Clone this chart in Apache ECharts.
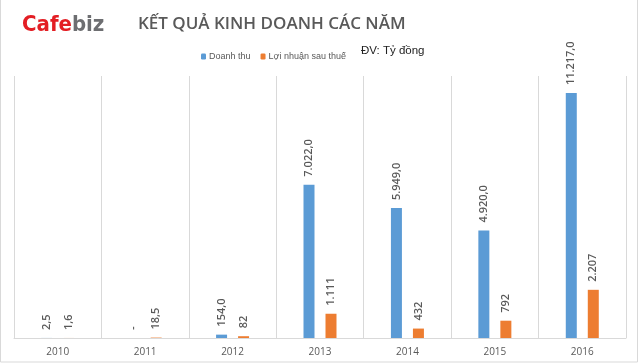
<!DOCTYPE html>
<html><head><meta charset="utf-8">
<script src="https://cdn.jsdelivr.net/npm/echarts@6/dist/echarts.min.js"></script>
<style>html,body{margin:0;padding:0;background:#fff}#c{width:640px;height:364px}</style>
</head><body><div id="c"></div>
<script>
const years = ['2010','2011','2012','2013','2014','2015','2016'];
const revenue = [2.5, 0, 154.0, 7022.0, 5949.0, 4920.0, 11217.0];
const profit = [1.6, 18.5, 82, 1111, 432, 792, 2207];
const seriesNames = ['Doanh thu', 'Lợi nhuận sau thuế'];

function fmt(v, dec) {
  const parts = v.toFixed(dec).split('.');
  parts[0] = parts[0].replace(/\B(?=(\d{3})+(?!\d))/g, '.');
  return parts.join(',');
}
const fmtRev = p => p.value === 0 ? '-' : fmt(p.value, 1);
const fmtProfit = p => Number.isInteger(p.value) ? fmt(p.value, 0) : fmt(p.value, 1);

const labelBase = {
  show: true, position: 'top', rotate: 90, align: 'left', verticalAlign: 'middle',
  distance: 8, color: '#595959', fontSize: 11, fontWeight: 600, fontFamily: 'Open Sans'
};

const chart = echarts.init(document.getElementById('c'), null, {renderer: 'canvas'});
chart.setOption({
  animation: false,
  backgroundColor: '#fff',
  title: [{
    text: 'KẾT QUẢ KINH DOANH CÁC NĂM', left: 133, top: 11,
    textStyle: {color: '#595959', fontSize: 17, fontWeight: 600, fontFamily: 'Open Sans'}
  }, {
    text: '{a|Cafe}{b|biz}', left: 17, top: 9,
    textStyle: {
      rich: {
        a: {color: '#e31e24', fontSize: 22, fontWeight: 'bold', fontFamily: 'DejaVu Sans Condensed'},
        b: {color: '#6d6e71', fontSize: 22, fontWeight: 'bold', fontFamily: 'DejaVu Sans Condensed'}
      }
    }
  }],
  legend: {
    data: seriesNames, left: 196, top: 47, itemWidth: 5, itemHeight: 6, itemGap: 10,
    textStyle: {color: '#595959', fontSize: 9, fontFamily: 'Liberation Sans', padding: [0, 0, 0, -2]}
  },
  graphic: [
    {type: 'rect', shape: {x: 0.5, y: -1, width: 637, height: 363}, style: {fill: 'none', stroke: '#d9d9d9', lineWidth: 1}},
    {type: 'text', x: 361, y: 45, style: {text: 'ĐV: Tỷ đồng', fill: '#222', fontSize: 11.5, fontFamily: 'Liberation Sans'}}
  ],
  grid: {left: 14, right: 14, top: 76, bottom: 26},
  xAxis: {
    type: 'category', data: years,
    axisLine: {lineStyle: {color: '#d9d9d9', width: 1}},
    axisTick: {show: false},
    splitLine: {show: true, interval: 0, lineStyle: {color: '#d9d9d9', width: 1}},
    axisLabel: {color: '#595959', fontSize: 10, fontFamily: 'Open Sans', margin: 9}
  },
  yAxis: {type: 'value', min: 0, max: 12000, show: false, splitLine: {show: false}},
  series: [
    {name: seriesNames[0], type: 'bar', data: revenue, barWidth: 11, barGap: '100%',
     itemStyle: {color: '#5b9bd5'}, label: Object.assign({}, labelBase, {formatter: fmtRev})},
    {name: seriesNames[1], type: 'bar', data: profit, barWidth: 11,
     itemStyle: {color: '#ed7d31'}, label: Object.assign({}, labelBase, {formatter: fmtProfit})}
  ]
});
</script></body></html>
